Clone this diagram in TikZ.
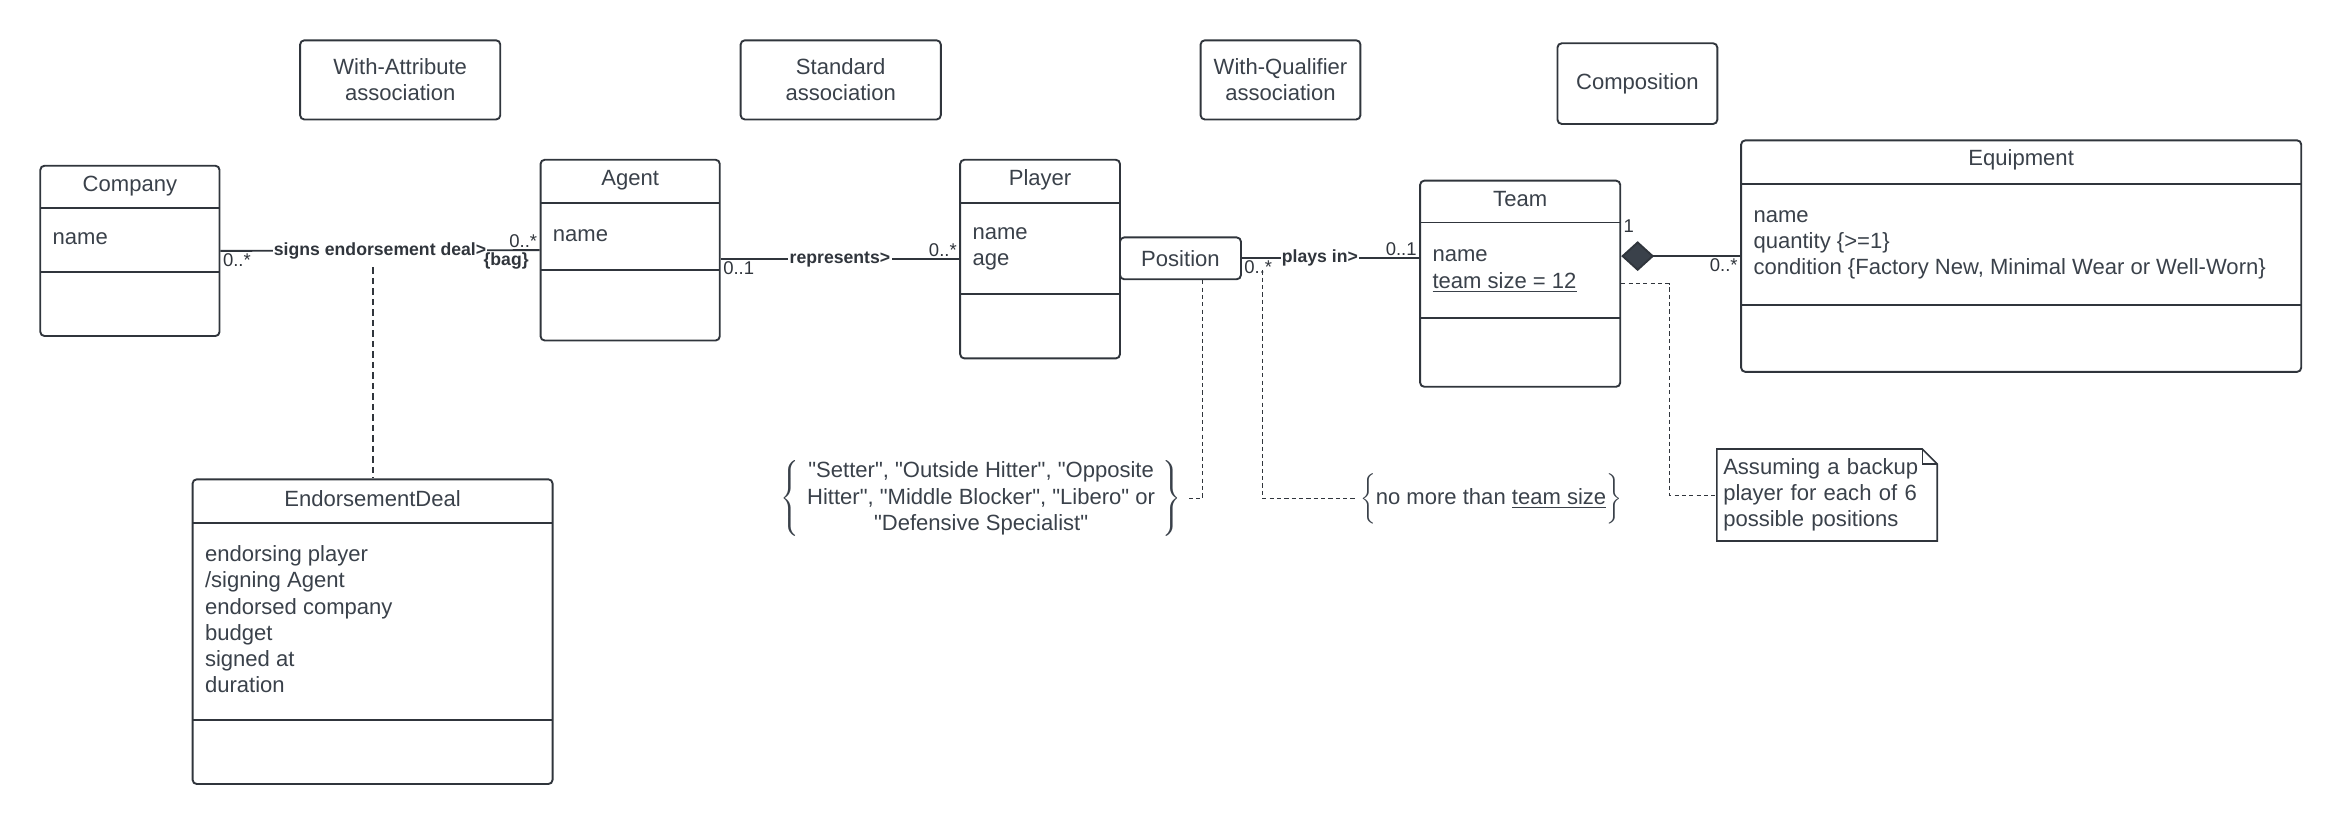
\documentclass[tikz,border=0pt]{standalone}
\usepackage{fontspec}
\setmainfont{Liberation Sans}[Ligatures=TeXOff]
\usetikzlibrary{positioning,arrows.meta}
\definecolor{umlline}{HTML}{30353C}
\definecolor{umltext}{HTML}{3A414A}

\begin{document}
\begin{tikzpicture}[x=0.025cm, y=-0.025cm,
        class_box/.style={rectangle, draw=umlline, line width=0.9pt, rounded corners=2pt, inner sep=0pt},
        kind_box/.style={class_box, align=center, text=umltext, font=\fontsize{10.5}{12.5}\selectfont},
        class_title/.style={text=umltext, font=\fontsize{10.5}{12.5}\selectfont, inner sep=0pt, anchor=base},
        attr_text/.style={text=umltext, font=\fontsize{10.5}{12.5}\selectfont, align=left, inner sep=0pt, anchor=base west},
        divider/.style={umlline, line width=0.9pt},
        assoc/.style={umlline, line width=0.9pt},
        assoc_label/.style={fill=white, text=umlline, font=\fontsize{8.4}{9}\selectfont\bfseries, inner sep=0.6pt},
        mult/.style={text=umlline, font=\fontsize{8.8}{9.5}\selectfont, inner sep=1pt},
        note_link/.style={umlline, line width=0.45pt, dash pattern=on 2pt off 1.5pt}
        ]
            \useasboundingbox (0,0) rectangle (1567,551.8);

            % kinds of association
            \node[kind_box, minimum width=3.35cm, minimum height=1.325cm]  (with_attr)  at (268,53.5)    {With-Attribute\\association};
            \node[kind_box, minimum width=3.35cm, minimum height=1.325cm]  (standard)   at (563,53.5)    {Standard\\association};
            \node[kind_box, minimum width=2.675cm, minimum height=1.325cm] (with_qual)  at (857.5,53.5)  {With-Qualifier\\association};
            \node[kind_box, minimum width=2.675cm, minimum height=1.35cm]  (composition) at (1096.5,56)  {Composition};

            % classes
            \node[class_box, minimum width=3cm, minimum height=2.85cm]       (company)   at (87,168)      {};
            \node[class_box, minimum width=3cm, minimum height=3.025cm]      (agent)     at (422,167.5)   {};
            \node[class_box, minimum width=2.675cm, minimum height=3.325cm]  (player)    at (696.5,173.5) {};
            \node[class_box, minimum width=3.35cm, minimum height=3.45cm]    (team)      at (1018,190)    {};
            \node[class_box, minimum width=9.375cm, minimum height=3.875cm]  (equipment) at (1353.5,171.5) {};
            \node[class_box, minimum width=6.025cm, minimum height=5.1cm]    (deal)      at (249.5,423)   {};
            \node[kind_box, minimum width=2.025cm, minimum height=0.7cm]     (position)  at (790.5,173)   {Position};

            % compartments
            \draw[divider] (27,139) -- (147,139);
            \draw[divider] (27,182) -- (147,182);
            \draw[divider] (362,136) -- (482,136);
            \draw[divider] (362,181) -- (482,181);
            \draw[divider] (643,136) -- (750,136);
            \draw[divider] (643,197) -- (750,197);
            \draw[divider] (951,149) -- (1085,149);
            \draw[divider] (951,213) -- (1085,213);
            \draw[divider] (1166,123) -- (1541,123);
            \draw[divider] (1166,204) -- (1541,204);
            \draw[divider] (129,350) -- (370,350);
            \draw[divider] (129,482) -- (370,482);

            % titles and attributes (base = last line)
            \node[class_title] (company_title)   at (87,128)     {Company};
            \node[class_title] (agent_title)     at (422,124)    {Agent};
            \node[class_title] (player_title)    at (696.5,124)  {Player};
            \node[class_title] (team_title)      at (1018,138)   {Team};
            \node[class_title] (equipment_title) at (1353.5,111) {Equipment};
            \node[class_title] (deal_title)      at (249.5,339)  {EndorsementDeal};
            \node[attr_text] (company_attr)   at (35,164)   {name};
            \node[attr_text] (agent_attr)     at (370,162)  {name};
            \node[attr_text] (player_attr)    at (651,178)  {name\\age};
            \node[attr_text] (team_attr)      at (959,193)  {name\\\underline{team size = 12}};
            \node[attr_text] (equipment_attr) at (1174,184) {name\\quantity \{>=1\}\\condition \{Factory New, Minimal Wear or Well-Worn\}};
            \node[attr_text] (deal_attr)      at (137,464)  {endorsing player\\/signing Agent\\endorsed company\\budget\\signed at\\duration};

            % constraints and note
            \node[text=umltext, font=\fontsize{10.5}{12.5}\selectfont, inner sep=2pt] (positions_constraint) at (657,334)
                {$\left\{\,\,\begin{tabular}{@{}c@{}}"Setter", "Outside Hitter", "Opposite\\Hitter", "Middle Blocker", "Libero" or\\"Defensive Specialist"\end{tabular}\,\,\right\}$};
            \node[text=umltext, font=\fontsize{10.5}{12.5}\selectfont, inner sep=1pt] (size_constraint) at (998.5,334)
                {$\left\{\rule[-8pt]{0pt}{20pt}\mbox{no more than \underline{team size}}\right\}$};
            \node[attr_text, anchor=center, text width=3.475cm, inner xsep=0.1cm, minimum height=1.525cm] (note) at (1223.5,331.5)
                {Assuming a backup\\player for each of 6\\possible positions};
            \draw[umlline, line width=0.8pt] (note.north west) -- ([xshift=-0.25cm]note.north east) -- ([yshift=-0.25cm]note.north east) -- (note.south east) -- (note.south west) -- cycle;
            \draw[umlline, line width=0.8pt] ([xshift=-0.25cm]note.north east) |- ([yshift=-0.25cm]note.north east);

            % Lines
            \draw[assoc] (company.east) -- node[assoc_label] (sign_label) {signs endorsement deal>} (agent.west);
            \draw[assoc] (agent.east |- player.west) -- node[assoc_label] (represent_label) {represents>} (player.west);
            \draw[assoc] (position.east) -- node[assoc_label, pos=0.44] (plays_label) {plays in>} (position.east -| team.west);
            \coordinate (comp_start) at (team.east |- equipment.west);
            \draw[assoc, {Diamond[length=0.55cm, width=0.5cm, fill=umltext]}-] (comp_start) -- (equipment.west);
            % association class
            \coordinate (deal_link) at (sign_label.south -| deal.north);
            \draw[assoc, dash pattern=on 3pt off 2pt] ([yshift=-3pt]deal_link) -- (deal.north);
            % note links
            \draw[note_link] ([xshift=10.3pt]position.south) |- (positions_constraint.east);
            \draw[note_link] ([xshift=10pt, yshift=-5.7pt]position.east) |- (size_constraint.west);
            \draw[note_link] (team.east) -- ++(32,0) |- (note.west);

            % multiplicities
            \node[mult, anchor=north west] at (company.east) {0..*};
            \node[mult, anchor=south east] at (agent.west) {0..*};
            \node[mult, anchor=north east, font=\fontsize{8.4}{9}\selectfont\bfseries] at ([xshift=-4pt]agent.west) {\{bag\}};
            \node[mult, anchor=north west] at (agent.east |- player.west) {0..1};
            \node[mult, anchor=south east] at (player.west) {0..*};
            \node[mult, anchor=north west] at (position.east) {0..*};
            \node[mult, anchor=south east] at (position.east -| team.west) {0..1};
            \node[mult, anchor=south west] at ([yshift=10pt]comp_start) {1};
            \node[mult, anchor=north east] at (equipment.west) {0..*};
        \end{tikzpicture}
\end{document}
